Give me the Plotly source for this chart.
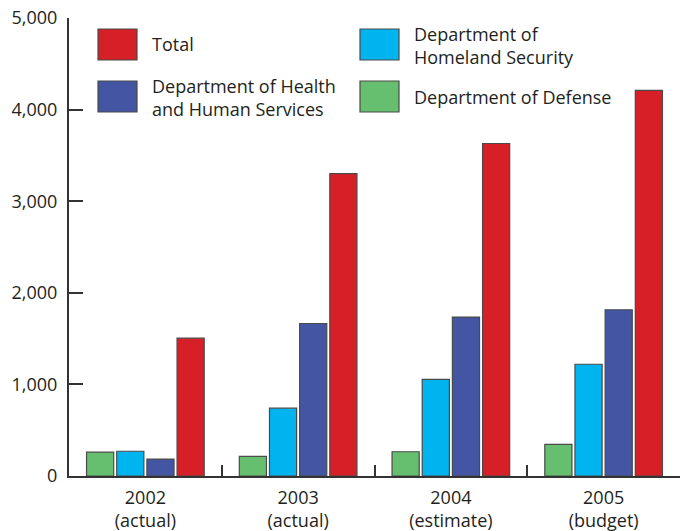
import plotly.graph_objects as go

years = ["2002<br>(actual)", "2003<br>(actual)", "2004<br>(estimate)", "2005<br>(budget)"]
defense = [260, 215, 265, 345]
homeland = [270, 740, 1055, 1220]
hhs = [185, 1665, 1735, 1815]
total = [1505, 3300, 3630, 4210]

y_ticks = [0, 1000, 2000, 3000, 4000, 5000]

C_DEF = "#66BF6F"
C_DHS = "#00B5EF"
C_HHS = "#4355A3"
C_TOT = "#D71F27"
EDGE = "#4a4a4a"
TXT = "#231F20"
FONT = "Open Sans"

W, H = 680, 531
L, R, T, B = 69, 0, 18, 55


def px(x):
    return (x - L) / (W - L - R)


def py(y):
    return (H - B - y) / (H - B - T)


fig = go.Figure()
for name, vals, col in [
    ("Department of Defense", defense, C_DEF),
    ("Department of Homeland Security", homeland, C_DHS),
    ("Department of Health and Human Services", hhs, C_HHS),
    ("Total", total, C_TOT),
]:
    fig.add_trace(go.Bar(x=years, y=vals, name=name,
                         marker=dict(color=col, line=dict(color=EDGE, width=1.2))))

# manual legend: (box x, box y, colour, text, text centre y, text x)
legend_items = [
    (98, 29, C_TOT, "Total", 44, 150),
    (98, 81, C_HHS, "Department of Health<br>and Human Services", 98, 150),
    (360, 29, C_DHS, "Department of<br>Homeland Security", 45.5, 412),
    (360, 81, C_DEF, "Department of Defense", 97, 412),
]
shapes = []
annotations = []
for bx, by, col, label, ty, tx in legend_items:
    shapes.append(dict(type="rect", xref="paper", yref="paper",
                       x0=px(bx), x1=px(bx + 39), y0=py(by + 31), y1=py(by),
                       fillcolor=col, line=dict(color=EDGE, width=1.2)))
    annotations.append(dict(xref="paper", yref="paper", x=px(tx), y=py(ty),
                            xanchor="left", yanchor="middle", align="left",
                            showarrow=False, text=label,
                            font=dict(family=FONT, size=18, color=TXT)))

fig.update_layout(
    width=W, height=H,
    margin=dict(l=L, r=R, t=T, b=B),
    paper_bgcolor="white", plot_bgcolor="white",
    showlegend=False,
    barmode="group", bargap=0.21, bargroupgap=0.1,
    font=dict(family=FONT, size=18, color=TXT),
    shapes=shapes, annotations=annotations,
    xaxis=dict(showline=True, linecolor="#333", linewidth=2,
               ticks="inside", tickson="boundaries", ticklen=11, tickwidth=2,
               tickcolor="#333", showgrid=False, zeroline=False,
               ticklabelstandoff=4,
               tickfont=dict(family=FONT, size=18, color=TXT)),
    yaxis=dict(range=[0, 5000], showline=True, linecolor="#333", linewidth=2,
               ticks="inside", ticklen=14, tickwidth=2, tickcolor="#333",
               tickvals=y_ticks, tickformat=",", showgrid=False, zeroline=False,
               ticklabelstandoff=6,
               tickfont=dict(family=FONT, size=18, color=TXT)),
)

fig.write_html("out.html")
